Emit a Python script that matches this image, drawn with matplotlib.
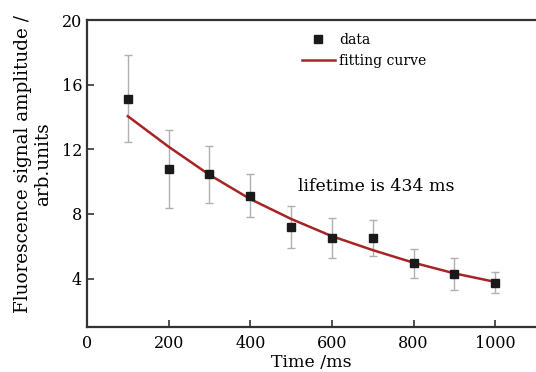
import matplotlib.pyplot as plt

plt.rcParams['font.family'] = 'DejaVu Serif'

time_ms = [100, 200, 300, 400, 500, 600, 700, 800, 900, 1000]
amplitude = [15.11, 10.79, 10.46, 9.13, 7.20, 6.50, 6.50, 4.94, 4.28, 3.75]
err_low = [2.68, 2.40, 1.76, 1.34, 1.34, 1.23, 1.13, 0.90, 0.98, 0.65]
err_high = [2.74, 2.38, 1.76, 1.35, 1.31, 1.27, 1.15, 0.91, 0.99, 0.66]

fit_time = [100, 200, 300, 400, 500, 600, 700, 800, 900, 1000]
fit_amp = [14.05, 12.16, 10.42, 8.92, 7.69, 6.62, 5.76, 4.98, 4.32, 3.79]

fig = plt.figure(figsize=(5.36, 3.72), dpi=100)
ax = fig.add_axes([0.1623, 0.121, 0.8377, 0.825])

ax.errorbar(time_ms, amplitude, yerr=[err_low, err_high], fmt='none',
            ecolor='#b0b0b0', elinewidth=1, capsize=3, capthick=1, zorder=1)
ax.plot(fit_time, fit_amp, color='#a82424', lw=1.8, label='fitting curve', zorder=2)
ax.plot(time_ms, amplitude, 's', color='#1a1a1a', ms=5.2, label='data', zorder=3)

handles, labels = ax.get_legend_handles_labels()
ax.legend(handles[::-1], labels[::-1], loc='upper left', bbox_to_anchor=(0.45, 1.0),
          frameon=False, fontsize=10, handlelength=2.4, handletextpad=0.3,
          labelspacing=0.5)

ax.text(0.47, 0.459, 'lifetime is 434 ms', transform=ax.transAxes, fontsize=12.5,
        va='center', ha='left')

ax.set_xlim(0, 1100)
ax.set_ylim(1, 20)
ax.set_xticks([0, 200, 400, 600, 800, 1000])
ax.set_yticks([4, 8, 12, 16, 20])
ax.tick_params(direction='in', length=5, width=1.2, labelsize=11.5, color='#333333')
ax.tick_params(axis='x', pad=6)
for side in ['left', 'bottom', 'top']:
    ax.spines[side].set_linewidth(1.6)
    ax.spines[side].set_color('#333333')
ax.spines['right'].set_visible(False)

ax.set_xlabel('Time /ms', fontsize=12.5, labelpad=1)
ax.set_ylabel('Fluorescence signal amplitude /\narb.units', fontsize=13.2,
              labelpad=7, linespacing=1.15)
ax.yaxis.label.set_y(0.53)

fig.savefig('out.png', dpi=100)
